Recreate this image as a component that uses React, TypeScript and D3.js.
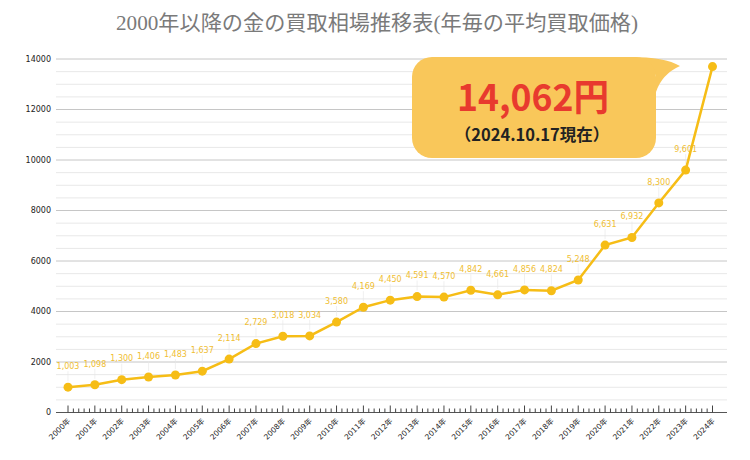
import React from "react";
import * as d3 from "d3";

const years = ["2000","2001","2002","2003","2004","2005","2006","2007","2008","2009","2010","2011","2012","2013","2014","2015","2016","2017","2018","2019","2020","2021","2022","2023","2024"];
const prices = [1003,1098,1300,1406,1483,1637,2114,2729,3018,3034,3580,4169,4450,4591,4570,4842,4661,4856,4824,5248,6631,6932,8300,9601,13700];
const showLabel = [true,true,true,true,true,true,true,true,true,true,true,true,true,true,true,true,true,true,true,true,true,true,true,true,false];
const yTicks = [0,2000,4000,6000,8000,10000,12000,14000];
const minorGrid = d3.range(500, 14001, 500);
const titleText = "2000年以降の金の買取相場推移表(年毎の平均買取価格)";
const calloutValue = "14,062円";
const calloutDate = "（2024.10.17現在）";

const W = 750, H = 460;
const x = d3.scalePoint<string>().domain(years).range([68, 712.5]);
const y = d3.scaleLinear().domain([0, 14000]).range([412.5, 59]);

const GOLD = "#F6BD16";
const LABEL = "#F0BE32";

export default function App() {
  const step = x.step();
  const minorTicks: number[] = [];
  years.forEach((yr, i) => {
    if (i < years.length - 1) {
      for (let k = 1; k < 5; k++) minorTicks.push((x(yr) as number) + (step * k) / 5);
    }
  });
  const line = d3.line<number>().x((_, i) => x(years[i]) as number).y((d) => y(d));
  return (
    <div style={{ position: "absolute", left: 0, top: 0 }}>
      <svg width={W} height={H} style={{ display: "block", background: "#fff" }}>
        <text x={377} y={30} textAnchor="middle" fontSize={21} fill="#7a7a7a"
          textLength={522} lengthAdjust="spacingAndGlyphs"
          fontFamily="'Liberation Serif', 'Noto Sans CJK JP', serif">{titleText}</text>
        {minorGrid.filter((v) => v % 2000 !== 0).map((v) => (
          <line key={"m" + v} x1={56} x2={727} y1={y(v)} y2={y(v)} stroke="#e8e8e8" strokeWidth={1} />
        ))}
        {yTicks.filter((v) => v > 0).map((v) => (
          <line key={"g" + v} x1={56} x2={727} y1={y(v)} y2={y(v)} stroke="#c6c6c6" strokeWidth={1} />
        ))}
        {yTicks.map((v) => (
          <text key={"yl" + v} x={51} y={y(v)} dy="0.35em" textAnchor="end" fontSize={8} fill="#222"
            fontFamily="'DejaVu Sans', sans-serif">{v}</text>
        ))}
        <line x1={56} x2={727} y1={y(0)} y2={y(0)} stroke="#555" strokeWidth={1} />
        {years.map((yr) => (
          <line key={"t" + yr} x1={x(yr)} x2={x(yr)} y1={y(0)} y2={y(0) - 7} stroke="#444" strokeWidth={1} />
        ))}
        {minorTicks.map((mx, i) => (
          <line key={"mt" + i} x1={mx} x2={mx} y1={y(0)} y2={y(0) - 4} stroke="#444" strokeWidth={1} />
        ))}
        {years.map((yr) => (
          <text key={"xl" + yr} transform={`translate(${(x(yr) as number) + 1},${y(0) + 7}) rotate(-45)`}
            textAnchor="end" dy="0.35em" fontSize={7.5} fill="#222"
            fontFamily="'DejaVu Sans', 'Noto Sans CJK JP', sans-serif">{yr + "年"}</text>
        ))}
        {prices.map((p, i) => showLabel[i] ? (
          <line key={"ll" + i} x1={x(years[i])} x2={x(years[i])} y1={y(p) - 6} y2={y(p) - 16}
            stroke="#e6e6e6" strokeWidth={0.6} />
        ) : null)}
        <path d={line(prices) || ""} fill="none" stroke={GOLD} strokeWidth={2.5} />
        {prices.map((p, i) => (
          <circle key={"c" + i} cx={x(years[i])} cy={y(p)} r={4.5} fill={GOLD} />
        ))}
        {prices.map((p, i) => showLabel[i] ? (
          <text key={"vl" + i} x={x(years[i])} y={y(p) - 21} dy="0.35em" textAnchor="middle" fontSize={8}
            fill={LABEL} fontFamily="'DejaVu Sans', sans-serif">{d3.format(",")(p)}</text>
        ) : null)}
        <path d="M630,57 Q665,57 680,66 Q662,74 656,92 L656,75 Z" fill="#F9C75A" />
        <rect x={412} y={57} width={244} height={101} rx={20} fill="#F9C75A" />
        <text x={533} y={111} textAnchor="middle" fontSize={37} fontWeight={700} fill="#E83A2E"
          textLength={152} lengthAdjust="spacingAndGlyphs"
          fontFamily="'Noto Sans CJK JP', 'Noto Sans', sans-serif">{calloutValue}</text>
        <text x={532} y={141} textAnchor="middle" fontSize={16.5} fontWeight={700} fill="#222"
          fontFamily="'Noto Sans CJK JP', 'Noto Sans', sans-serif">{calloutDate}</text>
      </svg>
    </div>
  );
}
